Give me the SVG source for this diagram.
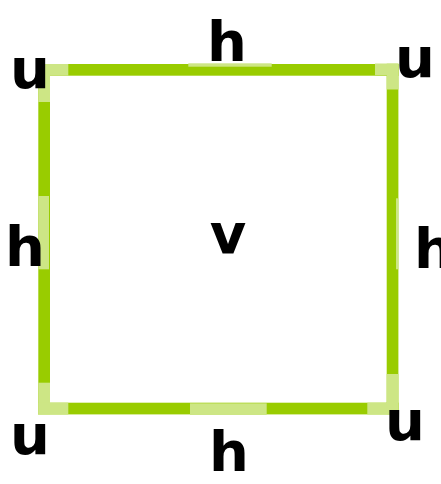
<svg xmlns="http://www.w3.org/2000/svg" width="441" height="484" viewBox="0 0 441 484">
<style>
.e{fill:#99cc00}
.l{fill:#cde685}
text{font-family:"DejaVu Sans",sans-serif;font-weight:bold;font-size:56px;fill:#000;text-anchor:middle}
</style>
<rect width="441" height="484" fill="#fff"/>
<g id="edges">
<rect class="e" x="38" y="64" width="360.5" height="11.7"/>
<rect class="e" x="38" y="402.7" width="360.5" height="11.7"/>
<rect class="e" x="38.3" y="64" width="11.7" height="350"/>
<rect class="e" x="386.7" y="64" width="11.7" height="350"/>
</g>
<g id="highlights">
<rect class="l" x="38.3" y="64" width="30" height="11.7"/>
<rect class="l" x="38.3" y="64" width="11.7" height="38"/>
<rect class="l" x="375" y="63.5" width="23.4" height="11.7"/>
<rect class="l" x="386.7" y="63.5" width="11.7" height="26"/>
<rect class="l" x="38.3" y="382.7" width="11.7" height="31.7"/>
<rect class="l" x="38.3" y="402.7" width="30" height="11.7"/>
<rect class="l" x="367.3" y="402.7" width="31" height="11.7"/>
<rect class="l" x="386.7" y="374" width="11.7" height="40.4"/>
<rect class="l" x="188.3" y="63.3" width="83.4" height="3.4"/>
<rect class="l" x="38.3" y="196" width="10.7" height="73.3"/>
<rect class="l" x="396" y="198.3" width="2.4" height="71"/>
<rect class="l" x="190" y="403.3" width="76.7" height="11.7"/>
</g>
<g id="n-v"><text x="228" y="253">v</text></g>
<g id="n-h-top"><text x="227" y="61">h</text></g>
<g id="n-h-bottom"><text x="229" y="471">h</text></g>
<g id="n-h-left"><text x="25" y="266">h</text></g>
<g id="n-h-right"><text x="434" y="268">h</text></g>
<g id="n-u-tl"><text x="30" y="88">u</text></g>
<g id="n-u-tr"><text x="415" y="77">u</text></g>
<g id="n-u-bl"><text x="30" y="454">u</text></g>
<g id="n-u-br"><text x="405" y="440">u</text></g>
</svg>
